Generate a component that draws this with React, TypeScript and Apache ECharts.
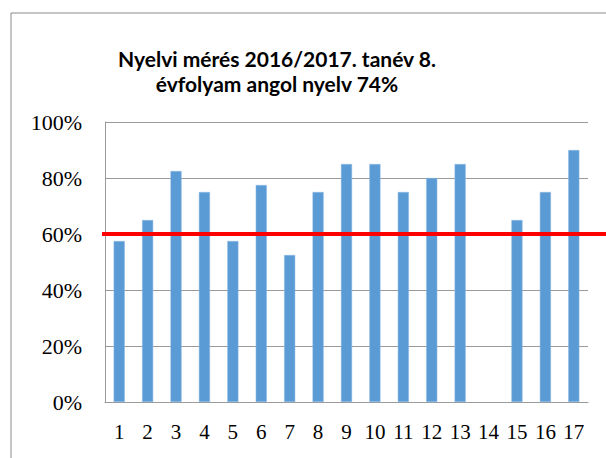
import React, { useEffect, useRef } from "react";
import * as echarts from "echarts";

const categories = ["1","2","3","4","5","6","7","8","9","10","11","12","13","14","15","16","17"];
const values: (number | null)[] = [57.5, 65, 82.5, 75, 57.5, 77.5, 52.5, 75, 85, 85, 75, 80, 85, null, 65, 75, 90];
const threshold = 60;
const titleText = "Nyelvi mérés 2016/2017. tanév 8.\névfolyam angol nyelv 74%";

export default function App() {
  const ref = useRef<HTMLDivElement>(null);
  useEffect(() => {
    document.body.style.margin = "0";
    const chart = echarts.init(ref.current!, null, { renderer: "svg" });
    const option: any = {
      animation: false,
      backgroundColor: "#ffffff",
      title: {
        text: titleText,
        left: 272,
        top: 41,
        textAlign: "center",
        textStyle: {
          fontFamily: "Lato",
          fontWeight: "bold",
          fontSize: 21,
          lineHeight: 25,
          color: "#000000",
        },
      },
      grid: { left: 105, right: 18, top: 122, bottom: 56, containLabel: false },
      xAxis: {
        type: "category",
        data: categories,
        axisLine: { show: true, lineStyle: { color: "#9a9a9a", width: 1 } },
        axisTick: { show: false },
        axisLabel: {
          interval: 0,
          margin: 19,
          fontFamily: "Liberation Serif",
          fontSize: 21,
          color: "#000000",
        },
      },
      yAxis: {
        type: "value",
        min: 0,
        max: 100,
        interval: 20,
        axisLine: { show: true, lineStyle: { color: "#9a9a9a", width: 1 } },
        axisTick: { show: false },
        splitLine: { show: true, lineStyle: { color: "#9a9a9a", width: 1 } },
        axisLabel: {
          formatter: "{value}%",
          margin: 23,
          fontFamily: "Liberation Serif",
          fontSize: 22,
          color: "#000000",
        },
      },
      series: [
        {
          type: "bar",
          data: values,
          barWidth: "39%",
          itemStyle: { color: "#5B9BD5", borderColor: "#8DB8E2", borderWidth: 0.5 },
        },
      ],
    };
    chart.setOption(option);
    const y = chart.convertToPixel({ yAxisIndex: 0 }, threshold) as number;
    chart.setOption({
      graphic: [
        {
          type: "rect",
          shape: { x: 11, y: 13, width: 700, height: 600 },
          style: { fill: "none", stroke: "#8a8a8a", lineWidth: 1 },
          silent: true,
          z: 0,
        },
        {
          type: "line",
          shape: { x1: 102, y1: y, x2: 606, y2: y },
          style: { stroke: "#FF0000", lineWidth: 4 },
          z: 100,
        },
      ],
    });
    return () => chart.dispose();
  }, []);
  return <div ref={ref} style={{ position: "absolute", left: 0, top: 0, width: 606, height: 458 }} />;
}
